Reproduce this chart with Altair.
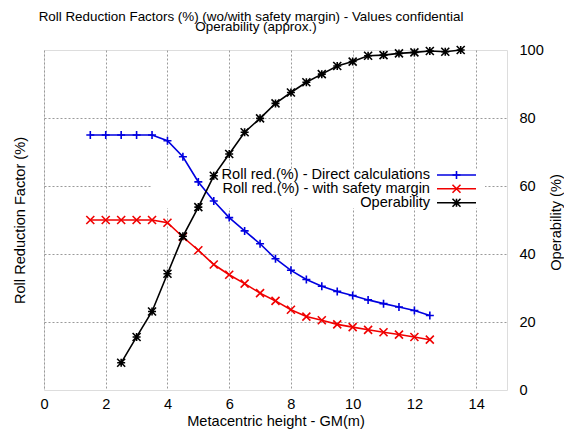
import altair as alt
import pandas as pd

# Metacentric height (m) for the roll reduction series
gm_roll = [1.5, 2.0, 2.5, 3.0, 3.5, 4.0, 4.5, 5.0, 5.5, 6.0, 6.5, 7.0,
           7.5, 8.0, 8.5, 9.0, 9.5, 10.0, 10.5, 11.0, 11.5, 12.0, 12.5]
roll_direct = [75, 75, 75, 75, 75, 73.3, 68.6, 61.2, 55.6, 50.7, 46.8, 43.0,
               38.6, 35.2, 32.5, 30.5, 29.0, 27.8, 26.5, 25.4, 24.4, 23.4, 21.9]
roll_margin = [50, 50, 50, 50, 50, 49.2, 45.0, 41.1, 36.9, 33.9, 31.3, 28.5,
               26.2, 23.6, 21.6, 20.5, 19.3, 18.5, 17.7, 17.0, 16.3, 15.6, 14.8]

# Metacentric height (m) for the operability series
gm_oper = [2.5, 3.0, 3.5, 4.0, 4.5, 5.0, 5.5, 6.0, 6.5, 7.0, 7.5, 8.0,
           8.5, 9.0, 9.5, 10.0, 10.5, 11.0, 11.5, 12.0, 12.5, 13.0, 13.5]
operability = [8.0, 15.6, 23.1, 34.2, 45.2, 53.8, 63.0, 69.4, 75.8, 79.9, 84.3, 87.5,
               90.5, 92.9, 95.3, 96.6, 98.3, 98.5, 99.0, 99.3, 99.7, 99.5, 100]

x_ticks = [0, 2, 4, 6, 8, 10, 12, 14]
y_grid = [20, 40, 60, 80]
y2_ticks = [0, 20, 40, 60, 80, 100]

series_names = ["Roll red.(%) - Direct calculations",
                "Roll red.(%) - with safety margin",
                "Operability"]
series_colors = ["#0000e0", "#f00000", "#000000"]

title_lines = ["Roll Reduction Factors (%) (wo/with safety margin) - Values confidential",
               "Operability (approx.)"]

FONT = "Liberation Sans"
FS = 14.6
TITLE_FS = 13.4
W, H = 463, 340

# stroked point glyphs: plus, cross and asterisk
PLUS = "M-1,0L1,0M0,-1L0,1"
CROSS = "M-1,-1L1,1M-1,1L1,-1"
STAR = PLUS + CROSS
shapes = [PLUS, CROSS, STAR]

x_scale = alt.Scale(domain=[0, 15], nice=False, zero=False)
y_scale = alt.Scale(domain=[0, 100], nice=False)

x_axis = alt.Axis(values=x_ticks, title="Metacentric height - GM(m)", grid=True,
                  gridColor="#9a9a9a", gridDash=[2, 2], gridWidth=1,
                  ticks=False, domain=False, labelPadding=6, titlePadding=3,
                  labelFontSize=FS, titleFontSize=FS, labelFont=FONT, titleFont=FONT,
                  titleFontWeight="normal", labelColor="black", titleColor="black",
                  labelFlush=False)

left_axis = alt.Axis(values=y_grid, title="Roll Reduction Factor (%)", grid=True,
                     gridColor="#9a9a9a", gridDash=[2, 2], gridWidth=1,
                     labels=False, ticks=False, domain=False,
                     titleFont=FONT, titleFontSize=FS, titleFontWeight="normal",
                     titleColor="black", titleAngle=270, titleX=-24, titleY=H / 2,
                     titleAlign="center", titleBaseline="middle")

right_axis = alt.Axis(values=y2_ticks, orient="right", title="Operability (%)",
                      grid=False, ticks=False, tickSize=0, domain=False,
                      labelPadding=12, labelFont=FONT, labelFontSize=FS,
                      labelColor="black", labelFlush=False,
                      titleFont=FONT, titleFontSize=FS, titleFontWeight="normal",
                      titleColor="black", titleAngle=270, titleX=49, titleY=H / 2 + 2,
                      titleAlign="center", titleBaseline="middle")

roll_df = pd.DataFrame({"gm": gm_roll, "direct": roll_direct, "margin": roll_margin})
oper_df = pd.DataFrame({"gm": gm_oper, "oper": operability})


def series(df, field, color, shape, axis):
    base = alt.Chart(df).encode(
        x=alt.X("gm:Q", scale=x_scale, axis=x_axis),
        y=alt.Y(f"{field}:Q", scale=y_scale, axis=axis),
    )
    line = base.mark_line(color=color, strokeWidth=1.6)
    pts = base.mark_point(shape=shape, size=64, color=color, filled=False,
                          strokeWidth=1.6, opacity=1)
    return line + pts


left = alt.layer(
    series(roll_df, "direct", series_colors[0], shapes[0], left_axis),
    series(roll_df, "margin", series_colors[1], shapes[1], left_axis),
)
right = series(oper_df, "oper", series_colors[2], shapes[2], right_axis)

# opaque key box behind the curves, over the grid
one = pd.DataFrame({"k": [0]})
key_box = alt.Chart(one).mark_rect(color="white").encode(
    x=alt.value(108), x2=alt.value(441), y=alt.value(120), y2=alt.value(158)
)

key_layers = []
key_rows = [125, 138.7, 152.7]
for name, color, shape, ky in zip(series_names, series_colors, shapes, key_rows):
    lab = pd.DataFrame({"label": [name]})
    key_layers.append(
        alt.Chart(lab).mark_text(align="right", baseline="middle", font=FONT,
                                 fontSize=FS, color="black")
        .encode(text="label:N", x=alt.value(386), y=alt.value(ky))
    )
    key_layers.append(
        alt.Chart(one).mark_rule(color=color, strokeWidth=1.6)
        .encode(x=alt.value(393), x2=alt.value(432), y=alt.value(ky))
    )
    key_layers.append(
        alt.Chart(one).mark_point(shape=shape, size=64, color=color, filled=False,
                                  strokeWidth=1.6, opacity=1)
        .encode(x=alt.value(412.5), y=alt.value(ky))
    )

# two-line heading above the frame
title_layers = []
for line, tx, ty in zip(title_lines, [207, 212], [-29.5, -19.5]):
    title_layers.append(
        alt.Chart(pd.DataFrame({"t": [line]})).mark_text(
            align="center", baseline="alphabetic", font=FONT, fontSize=TITLE_FS,
            color="black"
        ).encode(text="t:N", x=alt.value(tx), y=alt.value(ty))
    )

chart = alt.layer(key_box, left, right, *key_layers, *title_layers).resolve_scale(
    y="independent"
).properties(
    width=W,
    height=H,
    autosize=alt.AutoSizeParams(type="none"),
    padding={"left": 44, "top": 50, "right": 57, "bottom": 41},
).configure_view(
    stroke="black", strokeWidth=1
).configure(background="white")

chart.save("out.html", embed_options={"renderer": "svg", "actions": False})
